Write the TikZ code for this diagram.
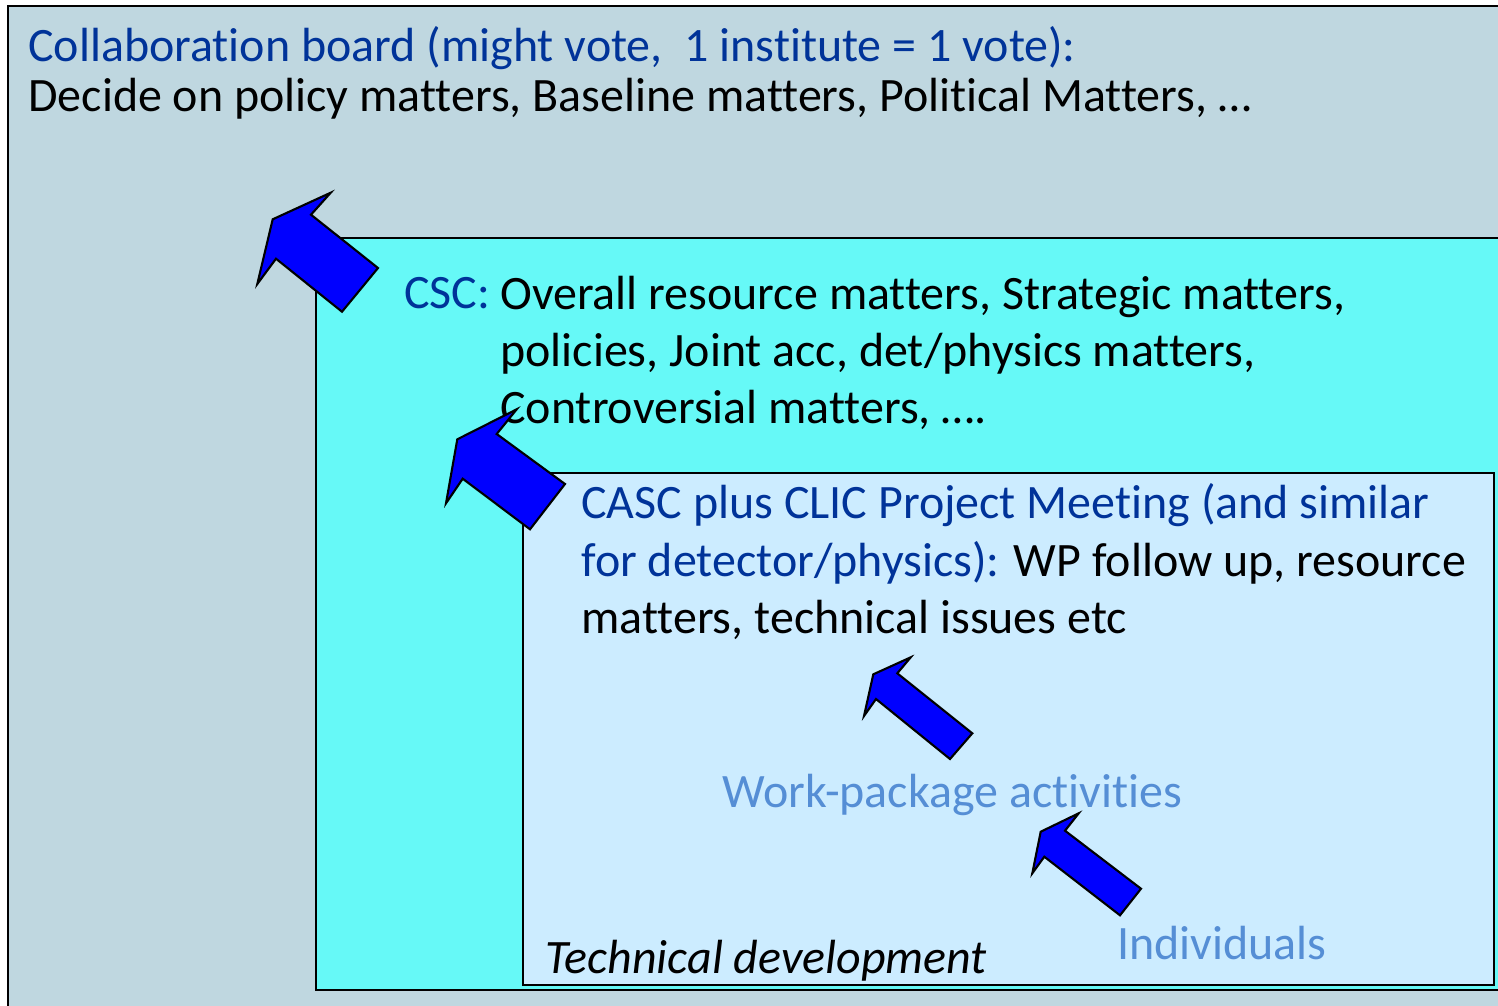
\documentclass[tikz,border=0pt]{standalone}
\usepackage{fontspec}
\setmainfont{Carlito}[Ligatures=NoCommon]
\usepackage{xcolor}
\definecolor{boardgray}{RGB}{191,215,224}
\definecolor{csccyan}{RGB}{102,249,247}
\definecolor{cascblue}{RGB}{204,236,255}
\definecolor{headblue}{RGB}{0,51,153}
\definecolor{wpblue}{RGB}{85,142,213}

\begin{document}
\begin{tikzpicture}[x=0.02cm,y=-0.02cm]
	\useasboundingbox (0,0) rectangle (1498,1005);
	\clip (0,0) rectangle (1498,1005);

	\begin{scope}[line width=1.4pt]
		\draw[fill=boardgray] (8,6) rectangle (1530,1030);
		\draw[fill=csccyan] (316,238) rectangle (1540,990);
		\draw[fill=cascblue,line width=1.2pt] (523,473) rectangle (1494,985);
	\end{scope}

	\begin{scope}[every node/.style={anchor=base west,inner sep=0pt,font=\fontsize{27.3}{32}\selectfont}]
		\node[headblue] (Board) at (28,61) {Collaboration board (might vote,~ 1 institute = 1 vote):};
		\node (BoardText) at (28,111) {Decide on policy matters, Baseline matters, Political Matters, \dots};

		\node[headblue] (CSC) at (404,308) {CSC:};
		\node (CSC1) at (500,309) {Overall resource matters, Strategic matters,};
		\node (CSC2) at (500,366) {policies, Joint acc, det/physics matters,};
		\node (CSC3) at (500,423) {Controversial matters, \dots.};

		\node[headblue] (CASC1) at (581,518) {CASC plus CLIC Project Meeting (and similar};
		\node (CASC2) at (581,576) {{\color{headblue}for detector/physics):} WP follow up, resource};
		\node (CASC3) at (581,633) {matters, technical issues etc};

		\node[wpblue] (WP) at (722,807) {Work-package activities};
		\node[wpblue] (Indiv) at (1117,959) {Individuals};
		\node[font=\fontsize{27.3}{32}\selectfont\itshape] (Tech) at (545,973) {Technical development};
	\end{scope}

	\begin{scope}[draw=black,fill=blue,line width=1.2pt,line join=miter]
		\filldraw (272.7,219.3) -- (330.7,192.7) -- (311,214.7) -- (378,268) -- (342,311.7) -- (276,258.7) -- (257.3,284) -- cycle;
		\filldraw (457.3,439.3) -- (516.7,409.3) -- (496.7,434) -- (565,484) -- (530,529.3) -- (462.7,478.7) -- (446,503.3) -- cycle;
		\filldraw (873.3,674.3) -- (910.7,657.3) -- (897.3,673.3) -- (972.3,733.3) -- (950,759) -- (876,699) -- (864,716) -- cycle;
		\filldraw (1040.7,831.7) -- (1078.7,813.3) -- (1065,830.7) -- (1141,888.7) -- (1120,915.3) -- (1044.3,856.7) -- (1032.3,873.3) -- cycle;
	\end{scope}
\end{tikzpicture}
\end{document}
